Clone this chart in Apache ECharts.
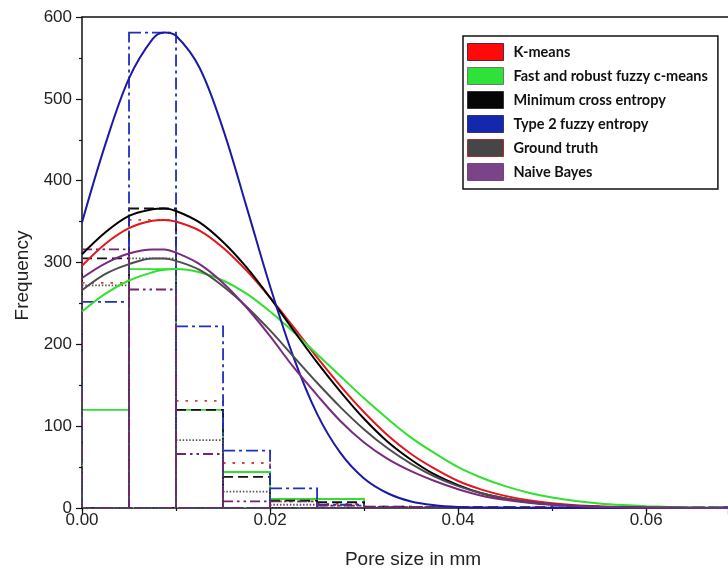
<!DOCTYPE html>
<html>
<head>
<meta charset="utf-8">
<script src="https://cdn.jsdelivr.net/npm/echarts@6/dist/echarts.min.js"></script>
<style>html,body{margin:0;padding:0;background:#fff}#c{width:728px;height:574px}</style>
</head>
<body>
<div id="c"></div>
<script>
// ---- data ----
const seriesNames = ['K-means', 'Fast and robust fuzzy c-means', 'Minimum cross entropy', 'Type 2 fuzzy entropy', 'Ground truth', 'Naive Bayes'];
const binEdges = [0, 0.005, 0.01, 0.015, 0.02, 0.025, 0.03, 0.035, 0.04, 0.045, 0.05, 0.055, 0.06, 0.065, 0.07];
const histKmeans = [275, 352, 131, 55, 8, 5, 1.5, 1, 0.5, 0.5, 0.5, 0.5, 0.5, 0.5];
const histFRFCM  = [120, 292, 120, 44, 11, 11, 0, 0, 0, 0, 0, 0, 0, 0];
const histMCE    = [305, 366, 120, 38, 9, 7, 1.5, 1, 1, 1, 0.5, 0.5, 1, 1];
const histT2FE   = [252, 581, 222, 70, 24, 4, 1, 1, 0.5, 0.5, 0.5, 0.5, 1, 1];
const histGT     = [272, 305, 83, 20, 4, 3, 1, 1, 0.5, 0.5, 0.5, 0, 0, 0];
const histNB     = [316, 267, 66, 8, 8, 3, 1, 1, 0.5, 0.5, 0.5, 0, 0, 0];

const curveX = [0, 0.0025, 0.005, 0.0075, 0.00875, 0.01, 0.0125, 0.015, 0.0175, 0.02, 0.0225, 0.025, 0.0275, 0.03, 0.0325, 0.035, 0.0375, 0.04, 0.0425, 0.045, 0.0475, 0.05, 0.0525, 0.055, 0.0575, 0.06, 0.0625, 0.065, 0.0675, 0.07];
const curveKmeans = [296, 323, 342, 351, 352, 350, 339, 318, 290, 257, 221, 184, 149, 117, 89, 66, 48, 33, 22.5, 14.8, 9.5, 5.9, 3.5, 2.1, 1.2, 0.6, 0.3, 0.2, 0.1, 0];
const curveFRFCM  = [240, 262, 278, 288, 291, 292, 288, 278, 262, 240, 215, 188, 161, 134, 109, 86, 67, 50, 37, 26.7, 18.7, 12.8, 8.6, 5.6, 3.6, 2.2, 1.3, 0.8, 0.5, 0.3];
const curveMCE    = [310, 337, 357, 365, 366, 363, 349, 325, 294, 257, 217, 178, 142, 109, 81, 59, 41, 28, 18, 11.6, 7.1, 4.2, 2.4, 1.4, 0.7, 0.4, 0.2, 0.1, 0, 0];
const curveT2FE   = [349, 445, 525, 573, 581, 577, 538, 463, 368, 271, 184, 115, 67, 36, 18, 8, 3.4, 1.3, 0.5, 0.2, 0.1, 0, 0, 0, 0, 0, 0, 0, 0, 0];
const curveGT     = [266, 286, 298, 305, 305, 302, 291, 271, 246, 217, 185, 153, 123, 96, 73, 54, 38.5, 26.7, 18, 11.8, 7.5, 4.6, 2.7, 1.6, 0.9, 0.5, 0.3, 0.1, 0, 0];
const curveNB     = [281, 299, 311, 316, 316, 312, 298, 275, 245, 210, 172, 138, 106, 80, 60, 45, 33, 23, 15, 10, 6.5, 4, 2.5, 1.5, 0.8, 0.5, 0.3, 0.1, 0, 0];

const yTicks = { min: 0, max: 600, interval: 100 };
const xRange = { min: 0, max: 0.0687 };

// ---- styles ----
const curveColors = ['#e4161c', '#2fe02f', '#000000', '#1a1aa6', '#4d4d4d', '#7a2a80'];
const histColors  = ['#d83a3a', '#2fe02f', '#111111', '#1f2fbf', '#555555', '#74246e'];
const histDash    = [[2.5, 7], null, [10, 5], [12, 4, 3, 4], [1.5, 1.8], [10, 4, 2.5, 4, 2.5, 4]];
const legendFill  = ['#ff0a0a', '#2ee23a', '#050505', '#1428ad', '#464646', '#7b4488'];
const legendBorder= ['#6b1f3a', '#6a7a6a', '#333333', '#33337a', '#b02a2a', '#6a4a7a'];

const hists  = [histKmeans, histFRFCM, histMCE, histT2FE, histGT, histNB];
const curves = [curveKmeans, curveFRFCM, curveMCE, curveT2FE, curveGT, curveNB];

const FONT = 'Liberation Sans, Arial, sans-serif';

const series = [];
hists.forEach((h, i) => {
  const data = h.map((v, k) => [binEdges[k], binEdges[k + 1], v]);
  series.push({
    name: seriesNames[i] + ' histogram',
    type: 'custom',
    xAxisIndex: 0,
    clip: true,
    silent: true,
    encode: { x: [0, 1], y: 2 },
    data: data,
    z: 2,
    renderItem: function (params, api) {
      const p0 = api.coord([api.value(0), api.value(2)]);
      const p1 = api.coord([api.value(1), 0]);
      return {
        type: 'rect',
        shape: { x: p0[0], y: p0[1], width: p1[0] - p0[0], height: p1[1] - p0[1] },
        style: { fill: 'none', stroke: histColors[i], lineWidth: 1.8, lineDash: histDash[i] || null }
      };
    }
  });
});
curves.forEach((c, i) => {
  series.push({
    name: seriesNames[i],
    type: 'line',
    xAxisIndex: 0,
    smooth: 0.35,
    showSymbol: false,
    symbol: 'none',
    clip: true,
    z: 3,
    color: curveColors[i],
    lineStyle: { color: curveColors[i], width: 2 },
    data: curveX.map((x, k) => [x, c[k]])
  });
});

const chart = echarts.init(document.getElementById('c'), null, { renderer: 'canvas' });
chart.setOption({
  animation: false,
  backgroundColor: '#fff',
  grid: { left: 82, right: 0, top: 17, bottom: 66 },
  legend: {
    left: 463, top: 36,
    orient: 'vertical',
    itemWidth: 36, itemHeight: 17, itemGap: 6,
    padding: [7, 10, 8, 4],
    borderColor: '#111', borderWidth: 1.5,
    selectedMode: false,
    icon: 'rect',
    textStyle: { fontFamily: 'Lato, Calibri, sans-serif', fontWeight: 'bold', fontSize: 14.5, color: '#111', padding: [0, 0, 0, 5] },
    data: seriesNames.map((n, i) => ({ name: n, icon: 'rect', itemStyle: { color: legendFill[i], borderColor: legendBorder[i], borderWidth: 1 } }))
  },
  xAxis: [
    {
      type: 'value', min: xRange.min, max: xRange.max, interval: 0.01, position: 'bottom',
      name: 'Pore size in mm', nameLocation: 'middle', nameGap: 42,
      nameTextStyle: { fontFamily: FONT, fontSize: 19, color: '#222', padding: [0, 0, 0, 16] },
      axisLine: { show: true, onZero: false, lineStyle: { color: '#111', width: 1.5 } },
      axisTick: { show: true, length: 3, lineStyle: { color: '#111', width: 1.2 } },
      axisLabel: {
        fontFamily: FONT, fontSize: 17, color: '#222', margin: 4, showMaxLabel: false,
        formatter: v => (Math.abs(Math.round(v / 0.02) * 0.02 - v) < 1e-9 ? v.toFixed(2) : '')
      },
      splitLine: { show: false }
    },
    {
      type: 'value', min: xRange.min, max: xRange.max, interval: 0.02, position: 'bottom',
      axisLine: { show: false, onZero: false },
      axisTick: { show: true, length: 6, lineStyle: { color: '#111', width: 1.2 } },
      axisLabel: { show: false },
      splitLine: { show: false }
    },
    {
      type: 'value', min: xRange.min, max: xRange.max, position: 'top',
      axisLine: { show: true, onZero: false, lineStyle: { color: '#111', width: 1.5 } },
      axisTick: { show: false }, axisLabel: { show: false }, splitLine: { show: false }
    }
  ],
  yAxis: {
    type: 'value', min: yTicks.min, max: yTicks.max, interval: yTicks.interval,
    name: 'Frequency', nameLocation: 'middle', nameGap: 49, nameRotate: 90,
    nameTextStyle: { fontFamily: FONT, fontSize: 19, color: '#222', padding: [0, 26, 0, 0] },
    axisLine: { show: true, onZero: false, lineStyle: { color: '#111', width: 1.5 } },
    axisTick: { show: true, length: 6, lineStyle: { color: '#111', width: 1.2 } },
    minorTick: { show: true, splitNumber: 2, length: 3, lineStyle: { color: '#111', width: 1.2 } },
    axisLabel: { fontFamily: FONT, fontSize: 17, color: '#222', margin: 10 },
    splitLine: { show: false }
  },
  series: series
});
</script>
</body>
</html>
